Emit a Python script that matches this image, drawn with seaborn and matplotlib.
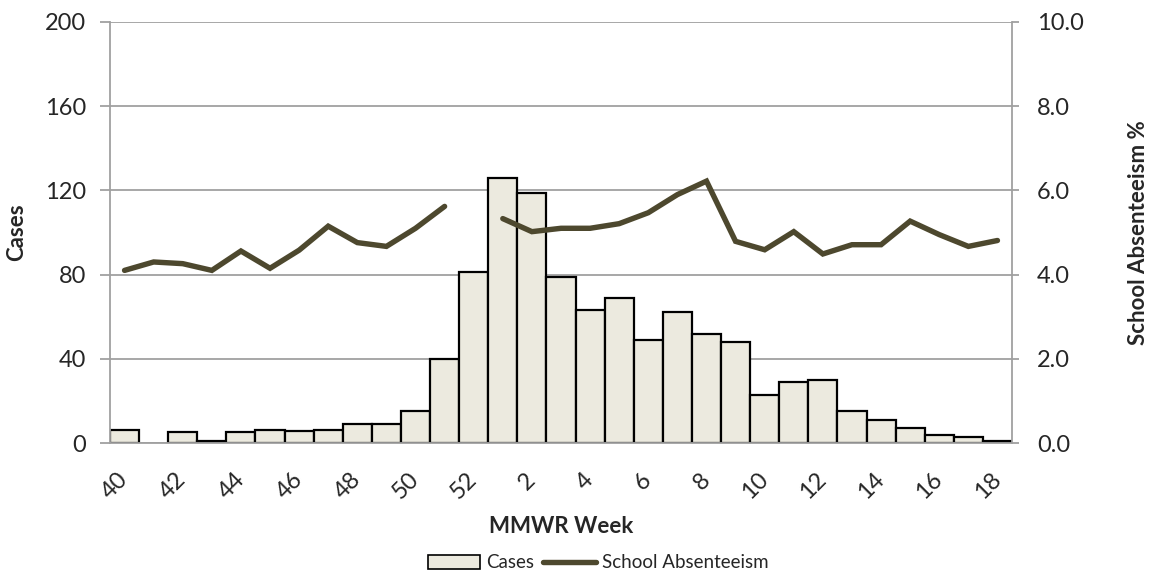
import numpy as np
import pandas as pd
import matplotlib
matplotlib.use("Agg")
import matplotlib.pyplot as plt
import seaborn as sns
from matplotlib.patches import Patch
from matplotlib.lines import Line2D

# ---- data ----
weeks = [40, 41, 42, 43, 44, 45, 46, 47, 48, 49, 50, 51, 52,
         1, 2, 3, 4, 5, 6, 7, 8, 9, 10, 11, 12, 13, 14, 15, 16, 17, 18]
cases = [6, 0, 5, 1, 5, 6, 5.5, 6, 9, 9, 15, 40, 81,
         126, 119, 79, 63, 69, 49, 62, 52, 48, 23, 29, 30, 15, 11, 7, 4, 3, 1]
absenteeism = [4.1, 4.3, 4.26, 4.1, 4.56, 4.15, 4.58, 5.15, 4.76, 4.67, 5.1, 5.62, np.nan,
               5.33, 5.02, 5.1, 5.1, 5.21, 5.47, 5.9, 6.22, 4.79, 4.59, 5.02, 4.49,
               4.71, 4.71, 5.27, 4.95, 4.67, 4.81]
left_ticks = [0, 40, 80, 120, 160, 200]
right_ticks = [0, 2, 4, 6, 8, 10]

BAR_FILL = "#ECEADF"
LINE_COLOR = "#4D482E"
GRID = "#A0A0A0"

sns.set_style("white")
plt.rcParams["font.family"] = ["Lato", "DejaVu Sans"]

week_labels = [str(w) for w in weeks]
df = pd.DataFrame({"week": week_labels, "cases": cases})

fig = plt.figure(figsize=(11.56, 5.74), dpi=100)
AX_L, AX_R, AX_T, AX_B = 110, 1012, 22, 443
ax = fig.add_axes([AX_L / 1156, 1 - AX_B / 574, (AX_R - AX_L) / 1156, (AX_B - AX_T) / 574])

sns.barplot(data=df, x="week", y="cases", order=week_labels, width=1.0,
            color=BAR_FILL, edgecolor="black", linewidth=1.6, saturation=1,
            ax=ax, zorder=2)
for p in ax.patches:
    p.set_facecolor(BAR_FILL)
    if p.get_height() == 0:
        p.set_edgecolor("none")

ax.set_ylim(0, 200)
ax.set_xlim(-0.5, len(weeks) - 0.5)
ax.set_yticks(left_ticks)
ax.set_yticklabels([str(t) for t in left_ticks], fontsize=17)
ax.yaxis.grid(True, color=GRID, linewidth=1.3, zorder=0)
ax.set_axisbelow(True)

# x ticks at boundaries, labels at centers of every other category
ax.set_xticks(np.arange(-0.5, len(weeks), 1.0))
ax.set_xticklabels([])
ax.tick_params(axis="x", which="major", length=6, color=GRID, width=1.3, direction="out")
lab_pos = list(range(0, len(weeks), 2))
ax.set_xticks(lab_pos, minor=True)
ax.set_xticklabels([week_labels[i] for i in lab_pos], minor=True, fontsize=17,
                   rotation=45, ha="right", va="center", rotation_mode="anchor")
ax.tick_params(axis="x", which="minor", length=0, pad=24)
ax.tick_params(axis="y", length=7, color=GRID, width=1.3, pad=10, direction="out")

for s in ["left", "right", "bottom"]:
    ax.spines[s].set_color(GRID)
    ax.spines[s].set_linewidth(1.3)
ax.spines["top"].set_visible(False)

ax.set_xlabel("MMWR Week", fontsize=16, fontweight="bold", labelpad=9)
ax.set_ylabel("Cases", fontsize=16, fontweight="bold")
ax.yaxis.set_label_coords((27 - AX_L) / (AX_R - AX_L), 0.5)

# secondary axis
ax2 = ax.twinx()
seg = np.cumsum(np.isnan(np.array(absenteeism, dtype=float)))
ldf = pd.DataFrame({"pos": np.arange(len(weeks)), "abs": absenteeism, "seg": seg}).dropna()
sns.lineplot(data=ldf, x="pos", y="abs", units="seg", estimator=None,
             color=LINE_COLOR, linewidth=3.9, ax=ax2, zorder=3,
             solid_capstyle="round", solid_joinstyle="miter")
ax2.set_ylim(0, 10)
ax2.set_xlim(-0.5, len(weeks) - 0.5)
ax2.set_yticks(right_ticks)
ax2.set_yticklabels([f"{t:.1f}" for t in right_ticks], fontsize=17)
ax2.tick_params(axis="y", length=5, color=GRID, width=1.3, pad=13, direction="out")
ax2.set_ylabel("School Absenteeism %", fontsize=16, fontweight="bold", rotation=90)
ax2.yaxis.set_label_coords((1128 - AX_L) / (AX_R - AX_L), 0.5)
ax2.set_xlabel("")
for s in ["top", "left", "right", "bottom"]:
    ax2.spines[s].set_visible(False)

handles = [Patch(facecolor=BAR_FILL, edgecolor="black", linewidth=1.2, label="Cases"),
           Line2D([0], [0], color=LINE_COLOR, linewidth=3.9, label="School Absenteeism")]
fig.legend(handles=handles, loc="center", bbox_to_anchor=(598 / 1156, 1 - 563 / 574),
           ncol=2, frameon=False, fontsize=13.5, handlelength=2.8, handleheight=0.85,
           handletextpad=0.3, columnspacing=0.5)

fig.savefig("out.png", dpi=100)
